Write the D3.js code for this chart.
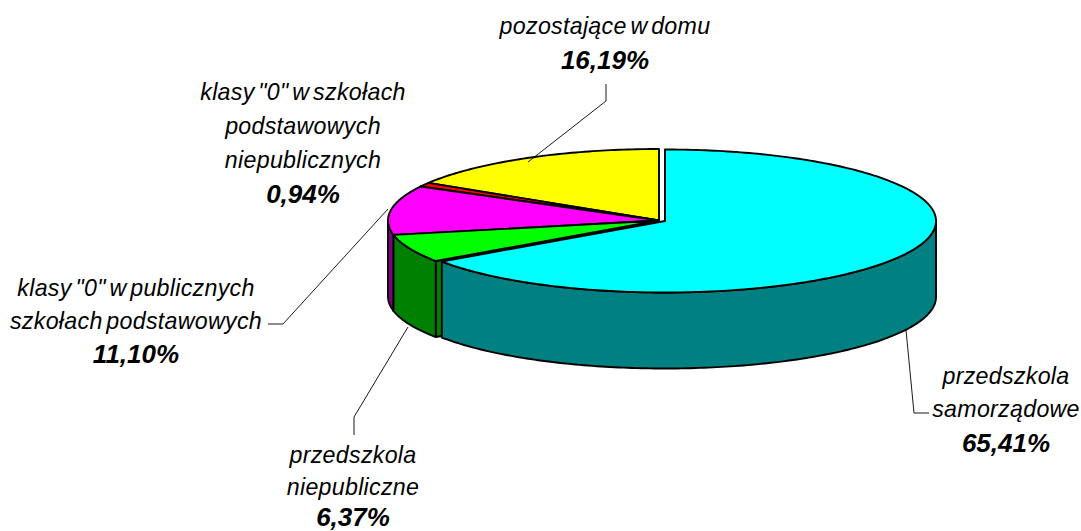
<!DOCTYPE html>
<html><head><meta charset="utf-8">
<script src="https://cdn.jsdelivr.net/npm/d3@7/dist/d3.min.js"></script>
<style>html,body{margin:0;padding:0;background:#fff}svg{display:block}
text{font-family:"Liberation Sans",Arial,sans-serif;fill:#000;text-anchor:middle}
.n{font-style:italic;font-size:23.2px;word-spacing:-3px;letter-spacing:.3px}
.b{font-style:italic;font-weight:bold;font-size:26px}</style>
</head><body><svg id="c" width="1081" height="531"></svg>
<script>
const categories = ["przedszkola samorządowe","przedszkola niepubliczne","klasy \"0\" w publicznych szkołach podstawowych","klasy \"0\" w szkołach podstawowych niepublicznych","pozostające w domu"];
const values = [65.41, 6.37, 11.10, 0.94, 16.19];
const valueLabels = ["65,41%","6,37%","11,10%","0,94%","16,19%"];
const topColors = ["#00FFFF","#00FF00","#FF00FF","#FF0000","#FFFF00"];
const sideColors = ["#008080","#008000","#800080","#800000","#808000"];
const labelLines = [["przedszkola","samorządowe"],["przedszkola","niepubliczne"],["klasy \"0\" w publicznych","szkołach podstawowych"],["klasy \"0\" w szkołach","podstawowych","niepublicznych"],["pozostające w domu"]];
// layout
const labelX = [1006,353,136,303,605];
const labelBase = [[384,417,452],[463,495,526],[296,329,363],[100,134,168,203],[34,69]];
const leaders = [[[906,330],[914,413],[929,413]],[[408,327],[354,417],[354,435]],[[388,209],[283,324],[268,324]],null,[[606,84],[606,101],[528,162]]];
const offsets = [[6,0.5],[0,0],[0,0],[0,0],[0,0]];
const cx=659, cy=220.5, rx=271, ry=71.5, depth=76;

const svg=d3.select("#c");
const arcs=d3.pie().sort(null).value(d=>d).startAngle(0).endAngle(2*Math.PI)(values);
const px=d3.scaleLinear().domain([-1,1]).range([cx-rx,cx+rx]);
const py=d3.scaleLinear().domain([-1,1]).range([cy-ry,cy+ry]);
const rim=(a,o,dz=0)=>[px(Math.sin(a))+o[0],py(-Math.cos(a))+o[1]+dz];
const line=d3.line();
const sample=(a0,a1,o,dz=0)=>{const n=Math.max(2,Math.ceil(Math.abs(a1-a0)*60));
  return d3.range(n+1).map(i=>rim(a0+(a1-a0)*i/n,o,dz));};
const g=svg.append("g");
const PI=Math.PI;
[4,3,2,1,0].forEach(i=>{
  const d=arcs[i],o=offsets[i],a0=d.startAngle,a1=d.endAngle;
  const apex=[cx+o[0],cy+o[1]];
  const draw=(pts,fill)=>g.append("path").attr("d",line(pts)+"Z").attr("fill",fill)
     .attr("stroke","#000").attr("stroke-width",1.9).attr("stroke-linejoin","round");
  const face=a=>{const r=rim(a,o),rb=rim(a,o,depth);
     draw([apex,r,rb,[apex[0],apex[1]+depth]],sideColors[i]);};
  if(a0>PI&&a0<2*PI) face(a0);
  if(a1>0&&a1<PI) face(a1);
  const w0=Math.max(a0,PI/2),w1=Math.min(a1,3*PI/2);
  if(w1>w0){draw(sample(w0,w1,o).concat(sample(w1,w0,o,depth)),sideColors[i]);}
  draw([apex].concat(sample(a0,a1,o)),topColors[i]);
});
leaders.forEach(l=>{if(l)svg.append("path").attr("d",line(l)).attr("fill","none").attr("stroke","#000").attr("stroke-width",0.9);});
labelLines.forEach((ls,i)=>{
  ls.forEach((t,j)=>svg.append("text").attr("class","n").attr("x",labelX[i]).attr("y",labelBase[i][j]).text(t));
  svg.append("text").attr("class","b").attr("x",labelX[i]).attr("y",labelBase[i][ls.length]).text(valueLabels[i]);
});
</script></body></html>
